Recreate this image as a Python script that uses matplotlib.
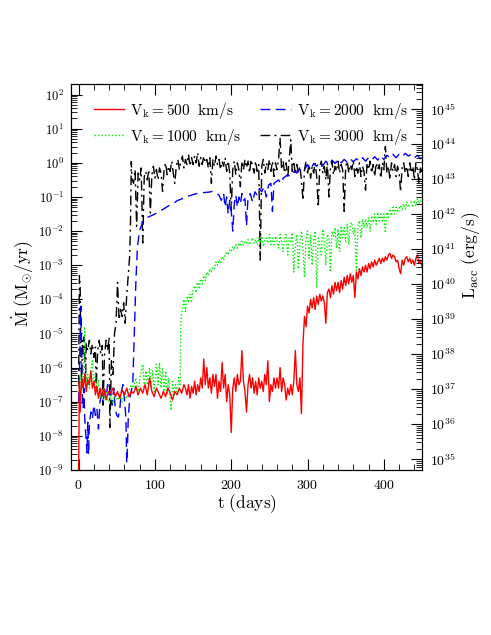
import numpy as np
import matplotlib
matplotlib.use("Agg")
import matplotlib.pyplot as plt
from matplotlib.ticker import FuncFormatter, MultipleLocator, LogLocator

plt.rcParams['mathtext.fontset'] = 'cm'
plt.rcParams['font.family'] = ['DejaVu Serif']

# (t [days], log10 Mdot [Msun/yr])
# early, sparse parts are (t, value) pairs; the dense noisy parts are on a 2-day grid

red_early = [
    (0, -9.0), (1, -6.4), (2, -7.3), (4, -6.3), (6, -6.6), (8, -6.2), (10, -6.7), (12, -6.35),
    (14, -6.5), (16, -6.1), (18, -6.6), (20, -6.4), (22, -6.8), (24, -6.55), (26, -6.9), (28, -6.6),
    (30, -6.85), (33, -6.6), (36, -6.95), (39, -6.7), (42, -6.75), (45, -6.6), (48, -6.85), (51, -6.7),
    (54, -6.9), (57, -6.65), (60, -6.8), (63, -6.6), (66, -6.85), (69, -6.7), (72, -6.75), (75, -6.55),
    (78, -6.8), (81, -6.6), (84, -6.75), (87, -6.5), (90, -6.8), (93, -6.3), (96, -6.7), (99, -6.85),
    (102, -6.6), (105, -6.75), (108, -6.9), (111, -6.7), (114, -6.85), (117, -6.6), (120, -6.75),
    (123, -6.95), (126, -6.7), (129, -6.8), (132, -6.6), (135, -6.75), (138, -6.5),
]
red_late_t = np.arange(140, 451, 2)
red_late = [
    -6.6, -6.8, -6.5, -6.9, -6.55, -6.75, -6.4, -6.8, -6.5, -6.7,
    -6.3, -6.6, -5.75, -6.5, -6.0, -6.6, -6.3, -6.75, -6.2, -6.55,
    -6.2, -6.9, -6.4, -6.7, -5.85, -6.6, -6.2, -7.0, -6.5, -6.8,
    -7.9, -6.6, -6.3, -6.7, -6.2, -6.5, -6.4, -5.5, -6.4, -6.7,
    -7.3, -6.5, -6.2, -6.6, -6.3, -6.75, -6.4, -6.8, -6.3, -6.6,
    -6.4, -6.7, -6.2, -6.5, -5.8, -7.0, -6.5, -6.7, -6.3, -6.6,
    -6.3, -6.6, -6.0, -6.7, -6.3, -6.5, -6.95, -6.6, -6.8, -6.5,
    -6.8, -6.4, -5.5, -6.5, -6.7, -6.3, -7.35, -5.3, -4.5, -4.8,
    -4.2, -4.4, -4.0, -4.25, -3.95, -4.3, -3.9, -4.15, -3.85, -4.05,
    -3.9, -4.1, -4.7, -3.8, -3.7, -3.95, -3.6, -3.85, -3.5, -3.75,
    -3.5, -3.8, -3.45, -3.7, -3.35, -3.6, -3.3, -3.55, -3.25, -3.5,
    -3.3, -3.95, -3.2, -3.4, -3.1, -3.3, -3.05, -3.2, -3.0, -3.2,
    -2.95, -3.1, -2.9, -3.05, -2.85, -3.0, -2.9, -2.8, -2.95, -2.8,
    -2.9, -2.75, -2.85, -2.7, -2.65, -2.8, -2.7, -2.75, -2.9, -2.85,
    -3.1, -3.25, -2.85, -3.0, -2.8, -2.75, -2.9, -2.8, -2.95, -2.85,
    -3.0, -2.8, -2.7, -2.95, -2.85, -3.05,
]

green_early = [
    (0, -6.6), (2, -6.2), (4, -6.7), (6, -6.3), (8, -4.8), (9, -6.0), (10, -6.5), (12, -6.2),
    (14, -6.6), (16, -6.1), (18, -5.8), (20, -6.5), (22, -6.2), (24, -6.7), (26, -6.35), (28, -6.9),
    (30, -6.6), (33, -6.95), (36, -6.7), (39, -7.0), (42, -6.8), (45, -7.05), (48, -6.75), (51, -6.95),
    (54, -6.8), (57, -7.0), (60, -6.75), (63, -6.9), (66, -6.7), (69, -6.5), (72, -6.6), (75, -6.3),
    (78, -6.7), (81, -6.2), (84, -5.9), (86, -6.6), (88, -6.1), (90, -6.5), (93, -6.0), (95, -6.6),
    (97, -6.1), (99, -6.7), (102, -5.9), (104, -6.5), (106, -5.85), (108, -6.6), (110, -6.0),
    (112, -6.7), (114, -6.1), (116, -6.8), (118, -6.3), (121, -7.25), (123, -6.4), (125, -6.8),
    (127, -6.5), (129, -6.7), (131, -6.3), (133, -6.5), (134, -4.6),
]
green_late_t = np.arange(136, 451, 2)
green_late = [
    -4.3, -4.0, -4.35, -3.9, -4.1, -3.85, -4.05, -3.7, -3.6, -3.8,
    -3.5, -3.65, -3.4, -3.55, -3.3, -3.45, -3.2, -3.3, -3.1, -3.2,
    -3.05, -3.1, -2.9, -3.0, -2.85, -2.95, -2.75, -2.85, -2.7, -2.6,
    -2.7, -2.55, -2.6, -2.45, -2.55, -2.4, -2.5, -2.35, -2.45, -2.3,
    -2.4, -2.3, -2.35, -2.25, -2.4, -2.3, -2.2, -2.35, -2.25, -2.4,
    -2.2, -2.35, -2.15, -2.45, -2.25, -2.2, -2.35, -2.1, -2.4, -2.2,
    -2.4, -2.15, -2.3, -2.5, -2.1, -2.3, -2.6, -2.2, -2.1, -2.7,
    -2.2, -2.3, -2.05, -3.2, -2.4, -2.1, -3.1, -2.3, -2.0, -2.5,
    -3.35, -2.2, -2.0, -2.8, -2.1, -3.0, -2.3, -2.0, -3.65, -2.2,
    -2.4, -2.7, -1.95, -2.3, -3.0, -2.1, -2.2, -3.2, -2.0, -2.15,
    -1.9, -2.5, -1.95, -2.6, -1.85, -2.2, -1.9, -2.3, -1.8, -2.4,
    -1.8, -1.75, -2.1, -1.9, -3.3, -1.8, -1.7, -2.2, -1.65, -1.9,
    -1.65, -1.9, -1.6, -2.0, -1.55, -1.75, -1.5, -1.8, -1.45, -1.7,
    -1.5, -1.7, -1.5, -2.05, -1.45, -1.6, -1.35, -1.55, -1.3, -1.5,
    -1.3, -1.45, -1.35, -1.25, -1.4, -1.2, -1.35, -1.15, -1.3, -1.2,
    -1.15, -1.3, -1.1, -1.25, -1.05, -1.2, -1.1, -1.2,
]

blue_pts = [
    (0, -7.0), (1, -6.3), (2, -5.0), (3, -4.2), (4, -5.5), (5, -6.8), (6, -7.2), (7, -6.6),
    (8, -7.5), (10, -8.2), (11, -8.5), (12, -7.6), (13, -8.55), (14, -7.7), (16, -7.3), (18, -7.5),
    (20, -7.1), (22, -7.4), (24, -7.2), (26, -7.8), (28, -7.0), (30, -6.8), (32, -7.0), (34, -6.6),
    (36, -6.9), (38, -6.5), (40, -6.8), (42, -6.7), (44, -7.1), (46, -6.6), (48, -7.2), (50, -7.4),
    (52, -7.45), (54, -7.2), (56, -6.7), (58, -6.5), (60, -6.9), (62, -7.5), (63, -8.8), (64, -8.3),
    (65, -7.5), (67, -6.9), (69, -6.7), (71, -6.45), (73, -5.0), (75, -3.5), (77, -2.5), (78, -2.3),
    (80, -1.97), (83, -1.8), (86, -1.67), (90, -1.6), (95, -1.55), (100, -1.5), (105, -1.43),
    (110, -1.37), (115, -1.3), (120, -1.23), (125, -1.17), (130, -1.1), (135, -1.06), (140, -1.0),
    (145, -0.97), (150, -0.93), (155, -0.9), (160, -0.88), (165, -0.87), (170, -0.86), (175, -0.84),
    (180, -0.87), (184, -0.95), (187, -1.1), (190, -0.9), (192, -1.3), (194, -1.0), (196, -1.5),
    (198, -1.1), (200, -1.4), (202, -2.0), (204, -1.2), (206, -0.95), (208, -1.3), (210, -1.0),
    (212, -1.2), (214, -0.9), (216, -1.1), (218, -1.05), (220, -1.85), (222, -1.0), (225, -0.9),
    (228, -1.15), (231, -0.85), (234, -0.95), (237, -0.75), (240, -0.85), (243, -0.7), (246, -1.0),
    (249, -0.65), (252, -0.6), (254, -1.42), (256, -0.6), (259, -0.55), (262, -0.5), (265, -0.6),
    (268, -0.45), (271, -0.4), (274, -0.35), (277, -0.4), (280, -0.3), (283, -0.25), (286, -0.3),
    (289, -0.2), (292, -0.15), (296, -0.2), (300, -0.05), (304, -0.2), (308, -0.02), (312, -0.1),
    (316, 0.02), (320, -0.08), (324, 0.05), (328, -0.05), (332, 0.08), (336, -0.02), (340, 0.1),
    (344, 0.0), (348, 0.1), (352, 0.02), (356, 0.12), (360, 0.03), (364, 0.12), (368, 0.05),
    (372, 0.15), (376, 0.05), (380, 0.15), (384, 0.08), (388, 0.18), (392, 0.08), (396, 0.2),
    (400, 0.1), (404, 0.22), (408, 0.15), (412, 0.25), (416, 0.15), (420, 0.25), (424, 0.18),
    (428, 0.28), (432, 0.2), (436, 0.25), (440, 0.15), (444, 0.22), (448, 0.12), (450, 0.18),
]

black_early = [
    (0, -6.5), (1, -3.3), (2, -3.6), (3, -5.8), (4, -6.4), (5, -5.2), (6, -5.6), (7, -5.1),
    (8, -5.5), (9, -6.45), (10, -5.3), (12, -5.5), (14, -5.2), (16, -5.6), (18, -5.3), (20, -5.7),
    (22, -5.4), (23, -6.6), (25, -5.5), (27, -5.2), (29, -5.6), (31, -5.35), (32, -7.1), (34, -5.6),
    (36, -5.2), (38, -5.5), (40, -5.1), (41, -7.75), (43, -5.8), (45, -6.2), (47, -5.0), (49, -4.7),
    (51, -3.5), (53, -4.6), (55, -4.3), (57, -4.5), (59, -4.1), (61, -4.7), (63, -3.9), (65, -3.3),
    (67, -2.7), (68, -1.7), (69, 0.04),
]
black_late_t = np.arange(70, 451, 2)
black_late = [
    -0.5, -0.6, -0.2, -1.86, -0.3, -0.5, -0.15, -2.35, -0.4, -0.25,
    -0.5, -0.2, -1.47, -0.35, -0.1, -0.45, -0.2, -0.5, -0.15, -0.3,
    -0.84, -0.2, 0.0, -0.35, -0.1, -0.25, 0.05, -0.3, -0.6, -0.1,
    0.1, -0.2, 0.05, 0.2, -0.15, 0.1, -0.05, 0.25, -0.1, 0.15,
    -0.05, 0.2, 0.0, 0.3, -0.1, 0.15, -0.05, 0.2, 0.0, 0.1,
    -0.15, 0.15, -0.6, 0.1, -0.1, 0.2, -0.05, 0.1, -0.2, 0.05,
    -0.1, 0.15, -0.25, 0.05, -0.3, -1.4, -0.2, 0.05, -0.35, 0.0,
    -0.2, -0.7, 0.05, -0.2, 0.1, -0.15, 0.05, -0.3, 0.1, -0.1,
    -0.3, 0.05, -0.25, -0.05, -2.85, -0.1, 0.1, -0.3, 0.0, -0.2,
    0.1, -0.25, 0.05, -0.4, 0.0, -0.2, 0.1, 0.72, -0.2, 0.05,
    -0.3, 0.0, -0.45, 0.1, 0.68, -0.25, 0.05, -0.35, -0.05, -0.3,
    -0.1, -0.5, -1.1, -0.2, 0.05, -0.3, -0.05, -0.45, -0.1, -0.3,
    0.0, -0.4, -1.3, -0.1, 0.05, -0.3, -0.1, -0.5, 0.0, -1.0,
    -0.15, 0.05, -0.35, -0.1, -0.25, 0.05, -0.3, -0.05, -0.2, -1.42,
    -0.1, 0.05, -0.3, -0.05, -0.2, 0.05, -0.4, -0.1, -0.3, 0.0,
    -0.4, -0.1, -0.25, -0.8, 0.0, -0.2, 0.05, -0.3, -0.05, -0.4,
    0.0, -0.2, -0.05, -0.45, 0.0, -0.2, 0.48, -0.3, -0.1, -0.5,
    0.0, -0.25, -0.05, -0.4, -0.1, -0.3, -0.85, -0.1, 0.0, -0.3,
    -0.1, -0.4, 0.0, -0.3, -0.1, -0.5, 0.0, -0.2, -0.6, -0.15,
    -0.3,
]


def join(early, late_t, late_v):
    t0, v0 = np.array(early).T
    return np.concatenate([t0, late_t]), np.concatenate([v0, late_v])


red_t, red_v = join(red_early, red_late_t, red_late)
green_t, green_v = join(green_early, green_late_t, green_late)
blue_t, blue_v = np.array(blue_pts).T
black_t, black_v = join(black_early, black_late_t, black_late)

labels = [r'${\rm V_k=500\ \ km/s}$', r'${\rm V_k=1000\ \ km/s}$',
          r'${\rm V_k=2000\ \ km/s}$', r'${\rm V_k=3000\ \ km/s}$']

fig = plt.figure(figsize=(4.91, 6.35), dpi=100)
ax = fig.add_axes([71/491, 1-470/635, 351/491, 386/635])

series = [
    (red_t, red_v, '#ff0000', '-', 5),
    (green_t, green_v, '#00ee00', (0, (1, 1.5)), 4),
    (blue_t, blue_v, '#0000ff', (0, (7, 4)), 3),
    (black_t, black_v, 'black', (0, (7, 3, 1.5, 3)), 2),
]
for (t, lm, col, ls, z), lab in zip(series, labels):
    ax.plot(t, 10**lm, color=col, ls=ls, lw=1.0, zorder=z, label=lab)

ax.set_yscale('log')
ax.set_xlim(-10, 450)
ax.set_ylim(1e-9, 10**2.31)
ax.xaxis.set_major_locator(MultipleLocator(100))
ax.xaxis.set_minor_locator(MultipleLocator(20))
ax.yaxis.set_major_locator(LogLocator(base=10, numticks=20))
ax.yaxis.set_minor_locator(LogLocator(base=10, subs=np.arange(2, 10), numticks=20))
ax.yaxis.set_major_formatter(FuncFormatter(lambda v, p: r'$10^{%d}$' % round(np.log10(v))))
ax.xaxis.set_major_formatter(FuncFormatter(lambda v, p: r'$%d$' % v))
ax.tick_params(which='both', direction='in', top=True, right=False)
ax.tick_params(which='major', length=8, width=0.8)
ax.tick_params(which='minor', length=4, width=0.6)
ax.tick_params(axis='y', labelsize=9, pad=5)
ax.tick_params(axis='x', labelsize=10, pad=6)

ax2 = ax.twinx()
ax2.set_yscale('log')
ax2.set_ylim(10**34.69, 10**45.72)
ax2.yaxis.set_major_locator(LogLocator(base=10, numticks=20))
ax2.yaxis.set_minor_locator(LogLocator(base=10, subs=np.arange(2, 10), numticks=20))
ax2.yaxis.set_major_formatter(FuncFormatter(lambda v, p: r'$10^{%d}$' % round(np.log10(v))))
ax2.tick_params(which='both', direction='in', left=False, right=True)
ax2.tick_params(which='major', length=8, width=0.8)
ax2.tick_params(which='minor', length=4, width=0.6)
ax2.tick_params(axis='y', labelsize=10, pad=6)

ax.set_xlabel(r'${\rm t\ (days)}$', fontsize=12.5, labelpad=0)
ax.set_ylabel(r'$\dot{\rm M}\ ({\rm M}_{\odot}/{\rm yr})$', fontsize=12.5)
ax.yaxis.set_label_coords(-0.10, 0.484)
ax2.set_ylabel(r'${\rm L_{acc}\ (erg/s)}$', fontsize=12.5)
ax2.yaxis.set_label_coords(1.105, 0.557)

ax.legend(ncol=2, loc='upper left', bbox_to_anchor=(0.065, 0.957), frameon=False,
          fontsize=11, handlelength=2.0, handletextpad=0.4, columnspacing=1.2,
          labelspacing=0.4, borderpad=0, borderaxespad=0)

fig.savefig('out.png', dpi=100)
